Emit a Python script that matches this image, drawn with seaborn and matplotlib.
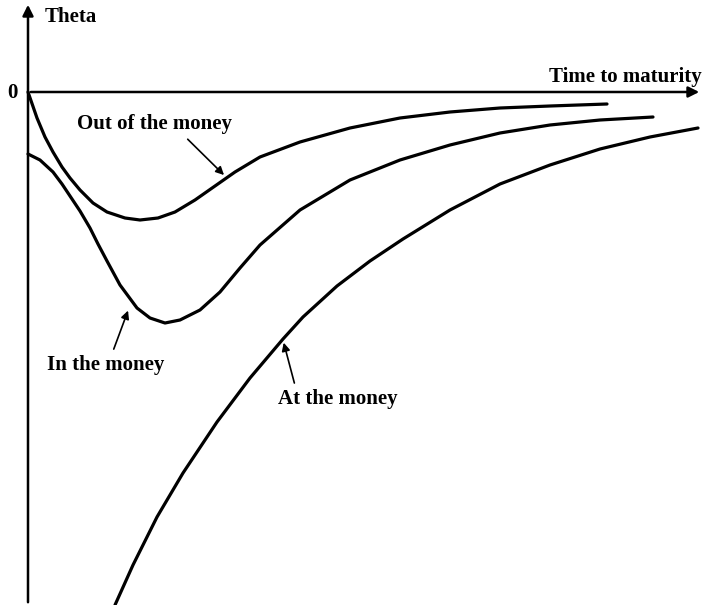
import numpy as np
import pandas as pd
import seaborn as sns
import matplotlib.pyplot as plt

# valori (unita' arbitrarie)
otm_t = [0, 0.9, 1.7, 2.5, 3.4, 4.2, 5.2, 6.5, 7.9, 9.7, 11.2, 13.0, 14.7, 16.7, 18.7, 20.7,
         23.2, 27.2, 32.2, 37.2, 42.2, 47.2, 52.2, 57.9]
otm_theta = [0, -2.6, -4.5, -6.0, -7.5, -8.6, -9.8, -11.1, -12.0, -12.6, -12.8, -12.6, -12.0, -10.8,
             -9.4, -8.0, -6.5, -5.0, -3.6, -2.6, -2.0, -1.6, -1.4, -1.2]

itm_t = [0, 1.2, 2.5, 3.4, 4.2, 5.2, 6.2, 7.0, 7.9, 9.2, 10.9, 12.2, 13.7, 15.2, 17.2, 19.2,
         21.2, 23.2, 27.2, 32.2, 37.2, 42.2, 47.2, 52.2, 57.2, 62.5]
itm_theta = [-6.2, -6.8, -8.0, -9.2, -10.4, -11.9, -13.6, -15.2, -16.9, -19.3, -21.6, -22.6, -23.1,
             -22.8, -21.8, -20.0, -17.6, -15.3, -11.8, -8.8, -6.8, -5.3, -4.1, -3.3, -2.8, -2.5]

atm_t = [8.7, 10.5, 12.9, 15.5, 18.9, 22.2, 25.5, 27.5, 30.9, 34.2, 37.5, 42.2, 47.2, 52.2,
         57.2, 62.2, 67.0]
atm_theta = [-51.3, -47.3, -42.5, -38.1, -33.0, -28.6, -24.7, -22.5, -19.4, -16.9, -14.7, -11.8,
             -9.2, -7.3, -5.7, -4.5, -3.6]

df = pd.concat([
    pd.DataFrame({'t': otm_t, 'theta': otm_theta, 'serie': 'Out of the money'}),
    pd.DataFrame({'t': itm_t, 'theta': itm_theta, 'serie': 'In the money'}),
    pd.DataFrame({'t': atm_t, 'theta': atm_theta, 'serie': 'At the money'}),
])

sns.set_theme(style="white")
plt.rcParams['font.family'] = ['Liberation Serif', 'DejaVu Serif']

fig = plt.figure(figsize=(7.05, 6.05), dpi=100)
ax = fig.add_axes([0, 0, 1, 1])
sns.lineplot(data=df, x='t', y='theta', hue='serie', palette=['black'] * 3,
             linewidth=2.3, sort=False, estimator=None, legend=False, ax=ax)
for l in ax.lines:
    l.set_solid_joinstyle('round')
    l.set_solid_capstyle('round')

ax.set_xlim(-2.8, 67.7)
ax.set_ylim(-51.3, 9.2)
ax.axis('off')

# assi con frecce
freccia = dict(arrowstyle='-|>', color='black', lw=1.8, mutation_scale=16)
ax.annotate('', xy=(0, 9.0), xytext=(0, -51.3), arrowprops=freccia)
ax.annotate('', xy=(67.4, 0), xytext=(0, 0), arrowprops=freccia)

fs = 15
testo = dict(fontsize=fs, fontweight='bold', color='black')
ax.text(1.7, 7.5, 'Theta', va='center', ha='left', **testo)
ax.text(-1.0, -0.1, '0', va='center', ha='right', **testo)
ax.text(67.4, 1.5, 'Time to maturity', va='center', ha='right', **testo)

punta = dict(arrowstyle='-|>', color='black', lw=1.2, mutation_scale=12)
ax.annotate('Out of the money', xy=(19.8, -8.5), xytext=(4.9, -3.2),
            va='center', ha='left', arrowprops=dict(punta, relpos=(0.68, 0.0)), **testo)
ax.annotate('In the money', xy=(10.1, -21.6), xytext=(1.9, -27.3),
            va='center', ha='left', arrowprops=dict(punta, relpos=(0.55, 1.0)), **testo)
ax.annotate('At the money', xy=(25.5, -24.8), xytext=(25.0, -30.7),
            va='center', ha='left', arrowprops=dict(punta, relpos=(0.15, 1.0)), **testo)

plt.savefig('out.png', dpi=100)
